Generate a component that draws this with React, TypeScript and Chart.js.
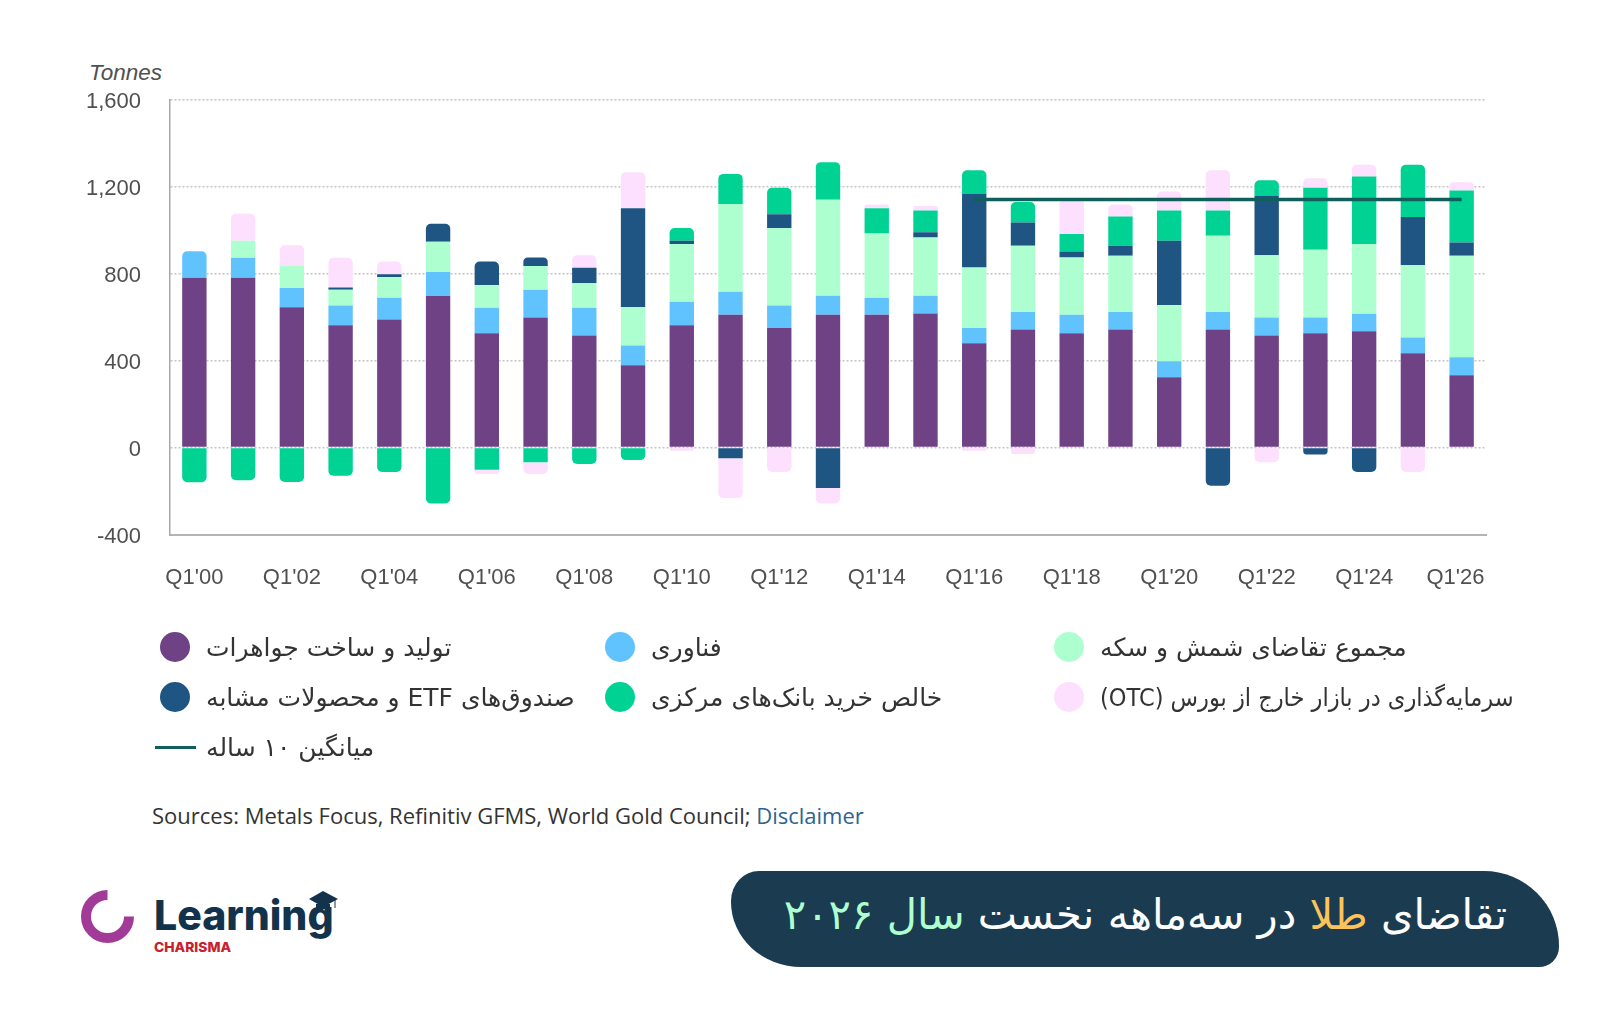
import React, { useEffect, useRef } from "react";
import { Chart, registerables } from "chart.js";

Chart.register(...registerables);

const years = Array.from({ length: 27 }, (_, i) => `Q1'${String(i).padStart(2, "0")}`);

const jewellery = [780, 780, 645, 562, 589, 697, 525, 598, 515, 378, 562, 610, 549, 610, 610, 616, 479, 543, 525, 543, 323, 543, 515, 525, 535, 433, 332];
const technology = [122, 92, 88, 91, 100, 110, 118, 127, 128, 91, 108, 106, 104, 88, 79, 82, 71, 80, 85, 80, 73, 80, 83, 73, 80, 73, 83];
const barCoin = [0, 79, 102, 72, 95, 139, 104, 110, 112, 176, 266, 403, 356, 441, 295, 267, 278, 305, 264, 259, 259, 350, 286, 311, 321, 332, 467];
const etf = [0, 0, 0, 11, 13, 83, 108, 39, 71, 455, 15, -49, 63, -186, 0, 25, 337, 106, 27, 46, 296, -176, 272, -32, -113, 222, 61];
const centralBanks = [-160, -150, -159, -130, -113, -257, -102, -68, -76, -58, 58, 139, 122, 173, 116, 100, 110, 95, 81, 134, 139, 117, 73, 285, 310, 240, 239];
const otc = [0, 124, 95, 136, 58, 0, -20, -54, 58, 166, -15, -183, -113, -71, 17, 20, -15, -30, 164, 55, 87, 185, -68, 44, 54, -113, 38];
const tenYearAvg = [null, null, null, null, null, null, null, null, null, null, null, null, null, null, null, null, 1140, 1140, 1140, 1140, 1140, 1140, 1140, 1140, 1140, 1140, 1140];

const FA = "'DejaVu Sans', sans-serif";
const AXIS_FONT = { family: "'Liberation Sans', Arial, sans-serif", size: 22 };

const barSeries = [
  { label: "تولید و ساخت جواهرات", data: jewellery, color: "#6f4185" },
  { label: "فناوری", data: technology, color: "#61c3fd" },
  { label: "مجموع تقاضای شمش و سکه", data: barCoin, color: "#aeffd0" },
  { label: "صندوق‌های ETF و محصولات مشابه", data: etf, color: "#1f5583" },
  { label: "خالص خرید بانک‌های مرکزی", data: centralBanks, color: "#00d294" },
  { label: "سرمایه‌گذاری در بازار خارج از بورس (OTC)", data: otc, color: "#fde0fd" },
];
const avgLabel = "میانگین ۱۰ ساله";
const avgColor = "#0f5f5a";

const GoldChart = () => {
  const canvasRef = useRef<HTMLCanvasElement>(null);

  useEffect(() => {
    if (!canvasRef.current) return;
    const chart = new Chart(canvasRef.current, {
      type: "bar",
      data: {
        labels: years,
        datasets: [
          {
            type: "line",
            label: avgLabel,
            data: tenYearAvg,
            borderColor: avgColor,
            borderWidth: 3.5,
            pointRadius: 0,
            order: 0,
          },
          ...barSeries.map((s) => ({
            label: s.label,
            data: s.data,
            backgroundColor: s.color,
            borderRadius: 5,
            barPercentage: 0.5,
            categoryPercentage: 1,
            order: 1,
          })),
        ] as any,
      },
      options: {
        responsive: false,
        animation: false,
        layout: { padding: { top: 99.5, right: 133, left: 0, bottom: 0 } },
        plugins: { legend: { display: false }, tooltip: { enabled: false } },
        scales: {
          x: {
            stacked: true,
            afterFit: (scale: any) => {
              scale.height = 105.5;
            },
            grid: { display: false },
            border: { display: true, color: "#b4b4b4", width: 2 },
            ticks: {
              font: AXIS_FONT,
              color: "#505050",
              padding: 22,
              autoSkip: false,
              maxRotation: 0,
              // last label sits a little inside the axis end
              callback: (_v: any, i: number) => (i === 26 ? years[i] + "  " : i % 2 === 0 ? years[i] : ""),
            },
          },
          y: {
            stacked: true,
            min: -400,
            max: 1600,
            afterFit: (scale: any) => {
              scale.width = 170;
            },
            grid: { color: "#c4c4c4", lineWidth: 1.5, drawTicks: false },
            border: { display: true, color: "#a8a8a8", width: 1.5, dash: [2, 2] },
            ticks: { stepSize: 400, font: AXIS_FONT, color: "#505050", padding: 29, labelOffset: 2 },
          },
        },
      },
    });
    return () => chart.destroy();
  }, []);

  return <canvas ref={canvasRef} width={1619} height={640} style={{ position: "absolute", left: 0, top: 0 }} />;
};

const Legend = () => (
  <div
    style={{
      position: "absolute",
      left: 160,
      top: 622,
      display: "grid",
      gridTemplateColumns: "445px 449px auto",
      gridAutoRows: "50px",
      alignItems: "center",
      fontFamily: FA,
      fontSize: 25,
      color: "#333",
    }}
  >
    {barSeries.map((s, i) => (
      <div key={s.label} style={{ display: "flex", alignItems: "center" }}>
        <span style={{ width: 30, height: 30, borderRadius: "50%", background: s.color, marginRight: 16 }} />
        {/* the OTC label is long, squeeze it so it keeps inside the page like the original */}
        <span dir="rtl" style={{ whiteSpace: "nowrap", transform: i === 5 ? "scaleX(0.9)" : undefined, transformOrigin: "left" }}>
          {s.label}
        </span>
      </div>
    ))}
    <div style={{ display: "flex", alignItems: "center" }}>
      <span style={{ width: 41, height: 3, background: avgColor, marginLeft: -5, marginRight: 10 }} />
      <span dir="rtl">{avgLabel}</span>
    </div>
  </div>
);

const Logo = () => (
  <svg width={290} height={90} style={{ position: "absolute", left: 70, top: 875 }}>
    <path d="M 37.5 20 A 21.5 21.5 0 1 0 59 41.5" fill="none" stroke="#a23b97" strokeWidth={10} />
    <text x={84} y={55} fontFamily="Inter, sans-serif" fontWeight={800} fontSize={41} fill="#12334b">
      Learning
    </text>
    <path d="M 253 16 L 268 24 L 253 32 L 239 24 Z M 246 29 L 260 29 L 260 34 L 246 34 Z" fill="#12334b" />
    <path d="M 265 24 L 265 33" stroke="#12334b" strokeWidth={1} />
    <text x={84} y={77} fontFamily="Inter, sans-serif" fontWeight={800} fontSize={13.8} fill="#c8202e">
      CHARISMA
    </text>
  </svg>
);

export default function App() {
  useEffect(() => {
    document.body.style.margin = "0";
  }, []);
  return (
    <div style={{ position: "relative", width: 1619, height: 1025, background: "#fff", overflow: "hidden" }}>
      <div style={{ position: "absolute", left: 89, top: 60, fontFamily: "'Liberation Sans', sans-serif", fontStyle: "italic", fontSize: 22.5, color: "#505050" }}>
        Tonnes
      </div>
      <GoldChart />
      <Legend />
      <div style={{ position: "absolute", left: 152, top: 800, fontFamily: "'Open Sans', sans-serif", fontSize: 22, color: "#333" }}>
        Sources: Metals Focus, Refinitiv GFMS, World Gold Council; <span style={{ color: "#2c6491" }}>Disclaimer</span>
      </div>
      <Logo />
      <div
        style={{
          position: "absolute",
          left: 731,
          top: 871,
          width: 828,
          height: 96,
          background: "#1a3b50",
          borderRadius: "28px 75px 20px 70px / 30px 75px 20px 65px",
        }}
      />
      <div dir="rtl" style={{ position: "absolute", right: 112, top: 890, fontFamily: FA, fontSize: 41.7, color: "#fff", whiteSpace: "nowrap" }}>
        تقاضای <span style={{ color: "#fdc35a" }}>طلا</span> در سه‌ماهه نخست <span style={{ color: "#aeffd0" }}>سال ۲۰۲۶</span>
      </div>
    </div>
  );
}
